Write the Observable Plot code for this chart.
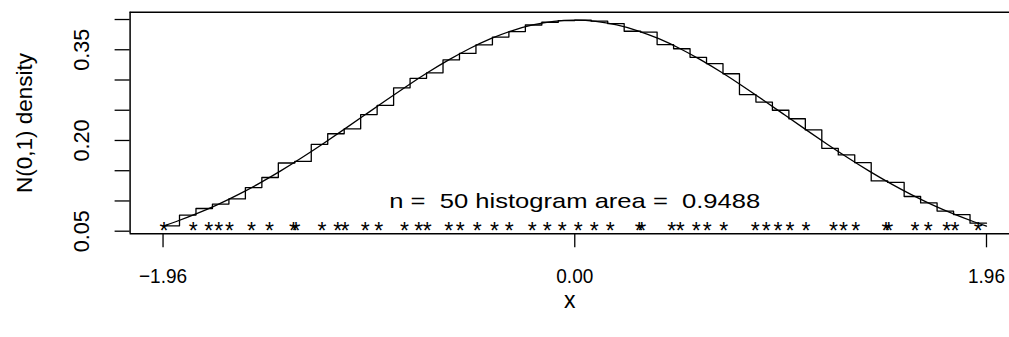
<!DOCTYPE html>
<html><head><meta charset="utf-8">
<script src="https://cdn.jsdelivr.net/npm/d3@7"></script>
<script src="https://cdn.jsdelivr.net/npm/@observablehq/plot@0.6"></script>
<style>html,body{margin:0;padding:0;background:#fff;overflow:hidden}</style>
</head><body><div id="chart"></div>
<script>
// Axis ticks and labels
const xTicks = [-1.96, 0, 1.96];
const yTicks = [0.05, 0.10, 0.15, 0.20, 0.25, 0.30, 0.35, 0.40];
const yLabels = [0.05, 0.20, 0.35];
const xTitle = "x";
const yTitle = "N(0,1) density";
const annotation = "n =  50 histogram area =  0.9488";
const annoX = 0;
const annoY = 0.1;
const xDomain = [-2.1168, 2.0695];
const yDomain = [0.0457, 0.4121];

// N(0,1) density curve
const curveX = [-1.96,-1.9,-1.8,-1.7,-1.6,-1.5,-1.4,-1.3,-1.2,-1.1,-1.0,-0.9,-0.8,-0.7,-0.6,-0.5,-0.4,-0.3,-0.2,-0.1,0,
  0.1,0.2,0.3,0.4,0.5,0.6,0.7,0.8,0.9,1.0,1.1,1.2,1.3,1.4,1.5,1.6,1.7,1.8,1.9,1.96];
const curveY = [0.0584,0.0656,0.0790,0.0940,0.1109,0.1295,0.1497,0.1714,0.1942,0.2179,0.2420,0.2661,0.2897,0.3123,0.3332,0.3521,0.3683,0.3814,0.3910,0.3970,0.3989,
  0.3970,0.3910,0.3814,0.3683,0.3521,0.3332,0.3123,0.2897,0.2661,0.2420,0.2179,0.1942,0.1714,0.1497,0.1295,0.1109,0.0940,0.0790,0.0656,0.0584];

// Histogram bin breaks (50 bins) and heights
const breaks = [-1.96,-1.8816,-1.8032,-1.7248,-1.6464,-1.568,-1.4896,-1.4112,-1.3328,-1.2544,-1.176,-1.0976,-1.0192,-0.9408,-0.8624,-0.784,-0.7056,-0.6272,-0.5488,-0.4704,-0.392,-0.3136,-0.2352,-0.1568,-0.0784,0,
  0.0784,0.1568,0.2352,0.3136,0.392,0.4704,0.5488,0.6272,0.7056,0.784,0.8624,0.9408,1.0192,1.0976,1.176,1.2544,1.3328,1.4112,1.4896,1.568,1.6464,1.7248,1.8032,1.8816,1.96];
const heights = [0.0589,0.0767,0.0875,0.0949,0.1033,0.1221,0.1388,0.1628,0.1653,0.1936,
  0.2111,0.2193,0.2428,0.2581,0.2871,0.3027,0.3119,0.3332,0.3439,0.3582,
  0.3709,0.3800,0.3909,0.3955,0.3982,0.3989,0.3972,0.3933,0.3806,0.3792,
  0.3585,0.3517,0.3375,0.3270,0.3103,0.2759,0.2635,0.2500,0.2359,0.2175,
  0.1870,0.1761,0.1633,0.1331,0.1307,0.1074,0.0967,0.0832,0.0775,0.0632];
// Sample points (stars)
const tags = [-1.956,-1.816,-1.742,-1.695,-1.644,-1.539,-1.453,-1.339,-1.327,-1.203,
  -1.128,-1.094,-0.997,-0.933,-0.811,-0.743,-0.702,-0.600,-0.545,-0.464,
  -0.382,-0.312,-0.202,-0.131,-0.060,0.017,0.093,0.169,0.307,0.319,
  0.462,0.502,0.578,0.630,0.709,0.859,0.911,0.967,1.025,1.101,
  1.231,1.279,1.337,1.482,1.494,1.620,1.683,1.771,1.810,1.920];
const starY = 0.0584;

const fmt = d3.format(".2f");
const chart = Plot.plot({
  width: 1009, height: 337,
  marginLeft: 129.6, marginRight: 0, marginTop: 11.7, marginBottom: 103.7,
  x: {domain: xDomain, axis: null},
  y: {domain: yDomain, axis: null},
  style: {fontFamily: "'Liberation Sans', Arial, sans-serif", background: "#fff", color: "#000"},
  marks: [
    Plot.ruleY(yDomain, {stroke: "#000", strokeWidth: 1.5}),
    Plot.ruleX([xDomain[0]], {stroke: "#000", strokeWidth: 1.5}),
    Plot.axisX({ticks: xTicks, tickFormat: () => "", tickSize: 14, label: null, stroke: "#000", strokeWidth: 1.3}),
    Plot.text(xTicks, {x: d => d, frameAnchor: "bottom", dy: 34.2, lineAnchor: "top", text: fmt, fontSize: 21, fill: "#000"}),
    Plot.axisY({ticks: yTicks, tickFormat: () => "", tickSize: 15, label: null, stroke: "#000", strokeWidth: 1.3}),
    Plot.text(yLabels, {y: d => d, frameAnchor: "left", dx: -41.5, rotate: -90, text: fmt, textAnchor: "middle", lineAnchor: "bottom", fontSize: 22, fill: "#000"}),
    Plot.text([yTitle], {frameAnchor: "left", dx: -105.3, rotate: -90, textAnchor: "middle", lineAnchor: "middle", fontSize: 22.5, fill: "#000"}),
    Plot.text([xTitle], {frameAnchor: "bottom", dy: 66.8, textAnchor: "middle", lineAnchor: "middle", fontSize: 23, fill: "#000"}),
    Plot.line(breaks, {x: d => d, y: (d, i) => heights[Math.min(i, heights.length - 1)], curve: "step-after", stroke: "#000", strokeWidth: 1.3}),
    Plot.line(curveX, {x: d => d, y: (d, i) => curveY[i], curve: "natural", stroke: "#000", strokeWidth: 1.3}),
    Plot.text(tags, {x: d => d, y: () => starY, text: () => "*", fontSize: 23, dy: 5.8, fill: "#000"}),
    Plot.text([annotation], {x: () => annoX, y: () => annoY, text: d => d, fontSize: 21, fill: "#000"})
  ]
});
document.getElementById("chart").appendChild(chart);
const xLabelTexts = xTicks.map(fmt);
d3.select(chart).selectAll("text").each(function() {
  const t = this.textContent;
  const tr = this.getAttribute("transform") || "";
  if (t === annotation) d3.select(this).attr("textLength", 371).attr("lengthAdjust", "spacingAndGlyphs");
  else if (yLabels.map(fmt).includes(t) && tr.includes("rotate")) {
    d3.select(this).attr("textLength", 42).attr("lengthAdjust", "spacingAndGlyphs");
  } else if (xLabelTexts.includes(t) && !tr.includes("rotate")) {
    const w = this.getComputedTextLength();
    if (w > 0) d3.select(this).attr("textLength", w * 19 / 21).attr("lengthAdjust", "spacingAndGlyphs");
  }
});
</script>
</body></html>
